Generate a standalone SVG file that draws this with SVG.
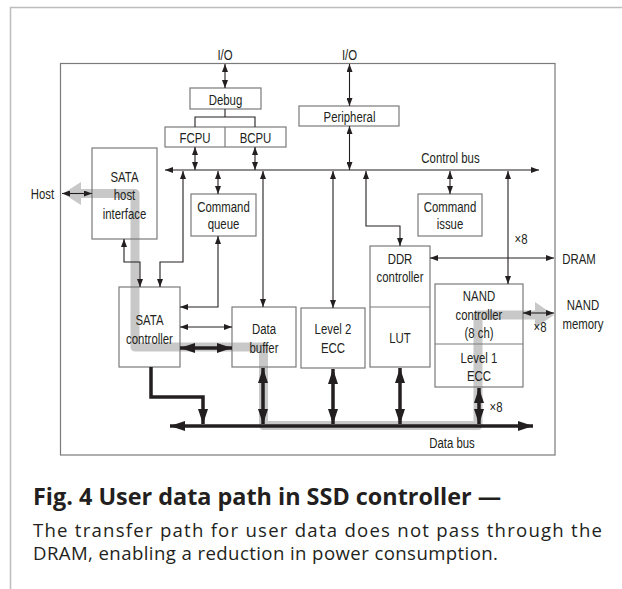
<svg xmlns="http://www.w3.org/2000/svg" width="622" height="589" viewBox="0 0 622 589">
<defs>
<style>
.box{fill:none;stroke:#7a7a7a;stroke-width:1.2}
.t{font-family:'Liberation Sans',Arial,sans-serif;font-size:15px;fill:#231f20;text-anchor:middle}
.ln{fill:none;stroke:#231f20;stroke-width:1.1}
.a2{marker-start:url(#ah);marker-end:url(#ah)}
.a1{marker-end:url(#ah)}
.thick{fill:none;stroke:#231f20;stroke-width:3.5}
.A2{marker-start:url(#AH);marker-end:url(#AH)}
.A1{marker-end:url(#AH)}
.gray{fill:none;stroke:#c8c8c8;stroke-width:9;stroke-linejoin:round}
.cap{font-family:'Open Sans','Noto Sans',sans-serif;fill:#231f20}
</style>
<marker id="ah" viewBox="0 0 8 6" refX="8" refY="3" markerWidth="8" markerHeight="6" markerUnits="userSpaceOnUse" orient="auto-start-reverse"><path d="M0,0 L8,3 L0,6 z" fill="#231f20"/></marker>
<marker id="AH" viewBox="0 0 15 10" refX="15" refY="5" markerWidth="15" markerHeight="10" markerUnits="userSpaceOnUse" orient="auto-start-reverse"><path d="M0,0 L15,5 L0,10 z" fill="#231f20"/></marker>
</defs>
<rect width="622" height="589" fill="#ffffff"/>
<path d="M10.5,589 V7.5 H622" fill="none" stroke="#bdbdbd" stroke-width="1.5"/>
<rect x="60.5" y="63.5" width="494.5" height="391.5" fill="none" stroke="#7a7a7a" stroke-width="1.2"/>

<g id="data-path">
<polyline class="gray" points="81,193.5 135,193.5 135,347 263.5,347 263.5,425.5 478,425.5 478,315 536,315"/>
<polygon points="63,193.5 81,182 81,205" fill="#c8c8c8"/>
<polygon points="554,315 535,302 535,328" fill="#c8c8c8"/>
</g>

<g id="debug"><rect class="box" x="190" y="88" width="71" height="21"/><text class="t" transform="scale(0.76 1)" x="296.71" y="105">Debug</text></g>
<g id="cpu"><rect class="box" x="165" y="127" width="121" height="20"/><line class="box" x1="225" y1="127" x2="225" y2="147"/><text class="t" transform="scale(0.76 1)" x="256.58" y="143">FCPU</text><text class="t" transform="scale(0.76 1)" x="336.18" y="143">BCPU</text></g>
<g id="peripheral"><rect class="box" x="299" y="106" width="100" height="20"/><text class="t" transform="scale(0.76 1)" x="459.87" y="122.5">Peripheral</text></g>
<g id="sata-host-interface"><rect class="box" x="92" y="148" width="65" height="91"/><text class="t" transform="scale(0.76 1)" x="163.82" y="182">SATA</text><text class="t" transform="scale(0.76 1)" x="163.82" y="200">host</text><text class="t" transform="scale(0.76 1)" x="163.82" y="219">interface</text></g>
<g id="command-queue"><rect class="box" x="191" y="194" width="65" height="42"/><text class="t" transform="scale(0.76 1)" x="294.08" y="212">Command</text><text class="t" transform="scale(0.76 1)" x="294.08" y="229">queue</text></g>
<g id="command-issue"><rect class="box" x="418" y="194" width="64" height="42"/><text class="t" transform="scale(0.76 1)" x="592.11" y="212">Command</text><text class="t" transform="scale(0.76 1)" x="592.11" y="229">issue</text></g>
<g id="sata-controller"><rect class="box" x="119" y="287" width="61" height="80"/><text class="t" transform="scale(0.76 1)" x="196.71" y="325">SATA</text><text class="t" transform="scale(0.76 1)" x="196.71" y="344">controller</text></g>
<g id="data-buffer"><rect class="box" x="232" y="307" width="64" height="60"/><text class="t" transform="scale(0.76 1)" x="347.37" y="334">Data</text><text class="t" transform="scale(0.76 1)" x="347.37" y="353">buffer</text></g>
<g id="level2-ecc"><rect class="box" x="301" y="308" width="64" height="60"/><text class="t" transform="scale(0.76 1)" x="438.16" y="334">Level 2</text><text class="t" transform="scale(0.76 1)" x="438.16" y="353">ECC</text></g>
<g id="ddr-lut"><rect class="box" x="370" y="246" width="60" height="121"/><line class="box" x1="370" y1="307" x2="430" y2="307"/><text class="t" transform="scale(0.76 1)" x="526.32" y="264">DDR</text><text class="t" transform="scale(0.76 1)" x="526.32" y="282">controller</text><text class="t" transform="scale(0.76 1)" x="526.32" y="343">LUT</text></g>
<g id="nand-controller"><rect class="box" x="435" y="284" width="88" height="103"/><line class="box" x1="435" y1="344" x2="523" y2="344"/><text class="t" transform="scale(0.76 1)" x="630.26" y="301">NAND</text><text class="t" transform="scale(0.76 1)" x="630.26" y="320">controller</text><text class="t" transform="scale(0.76 1)" x="630.26" y="338">(8 ch)</text><text class="t" transform="scale(0.76 1)" x="630.26" y="363">Level 1</text><text class="t" transform="scale(0.76 1)" x="630.26" y="381">ECC</text></g>

<g id="labels">
<text class="t" transform="scale(0.76 1)" x="296.05" y="60.5">I/O</text>
<text class="t" transform="scale(0.76 1)" x="459.87" y="60.5">I/O</text>
<text class="t" transform="scale(0.76 1)" x="55.92" y="199">Host</text>
<text class="t" transform="scale(0.76 1)" x="592.76" y="163">Control bus</text>
<text class="t" transform="scale(0.76 1)" x="761.84" y="264">DRAM</text>
<text class="t" transform="scale(0.76 1)" x="767.11" y="310">NAND</text>
<text class="t" transform="scale(0.76 1)" x="767.11" y="329">memory</text>
<text class="t" transform="scale(0.76 1)" x="685.53" y="244">×8</text>
<text class="t" transform="scale(0.76 1)" x="710.53" y="332">×8</text>
<text class="t" transform="scale(0.76 1)" x="652.63" y="412">×8</text>
<text class="t" transform="scale(0.76 1)" x="594.74" y="448">Data bus</text>
</g>

<g id="connectors">
<line class="ln a2" x1="225" y1="64" x2="225" y2="88"/>
<path class="ln" d="M225,109 V117 M195,127 V117 H255 V127"/>
<line class="ln a2" x1="195" y1="147" x2="195" y2="170"/>
<line class="ln a2" x1="255" y1="147" x2="255" y2="170"/>
<line class="ln a2" x1="349.5" y1="64" x2="349.5" y2="106"/>
<line class="ln a2" x1="349.5" y1="126" x2="349.5" y2="170"/>
<line class="ln a2" x1="165" y1="170" x2="539" y2="170"/>
<polyline class="ln a2" points="183,171 183,262 160,262 160,287"/>
<line class="ln a2" x1="218" y1="171" x2="218" y2="194"/>
<line class="ln a2" x1="263" y1="171" x2="263" y2="307"/>
<line class="ln a2" x1="333" y1="171" x2="333" y2="308"/>
<polyline class="ln a2" points="366,171 366,226 400,226 400,246"/>
<line class="ln a2" x1="450" y1="171" x2="450" y2="194"/>
<line class="ln a2" x1="508" y1="171" x2="508" y2="284"/>
<line class="ln a2" x1="62" y1="193.5" x2="92" y2="193.5"/>
<polyline class="ln a2" points="124,239 124,262 140,262 140,287"/>
<polyline class="ln a2" points="218,236 218,307 180,307"/>
<line class="ln a2" x1="180" y1="327" x2="232" y2="327"/>
<line class="ln a2" x1="430" y1="258" x2="554" y2="258"/>
<line class="ln a2" x1="523" y1="313" x2="554" y2="313"/>
<line class="thick A2" x1="180" y1="348" x2="232" y2="348"/>
<polyline class="thick A1" points="151,367 151,397 203,397 203,424"/>
<line class="thick A2" x1="263" y1="368" x2="263" y2="424"/>
<line class="thick A2" x1="333" y1="369" x2="333" y2="424"/>
<line class="thick A2" x1="400" y1="368" x2="400" y2="424"/>
<line class="thick A2" x1="479" y1="388" x2="479" y2="424"/>
<line class="thick A2" x1="170" y1="426" x2="533" y2="426"/>
</g>

<g id="caption">
<text class="cap" x="33" y="505" font-size="23.4" font-weight="700">Fig. 4 User data path in SSD controller —</text>
<text class="cap" x="33" y="537" font-size="18.6" textLength="569" lengthAdjust="spacing">The transfer path for user data does not pass through the</text>
<text class="cap" x="33" y="560" font-size="18.6" textLength="465" lengthAdjust="spacing">DRAM, enabling a reduction in power consumption.</text>
</g>
</svg>
